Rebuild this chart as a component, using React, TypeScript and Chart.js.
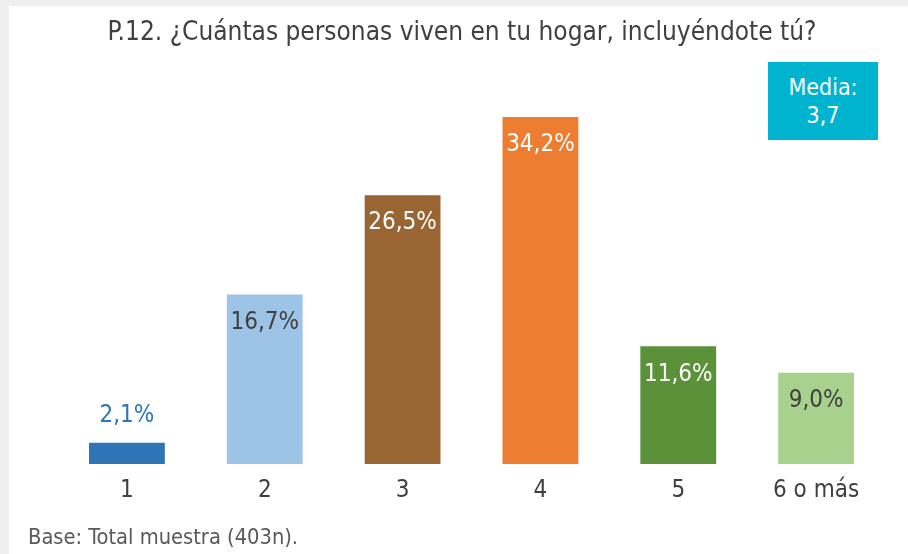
import React, { useEffect, useRef } from "react";
import { Chart, registerables } from "chart.js";

Chart.register(...registerables);

const categories = ["1", "2", "3", "4", "5", "6 o más"];
const values = [2.1, 16.7, 26.5, 34.2, 11.6, 9.0];
const valueLabels = ["2,1%", "16,7%", "26,5%", "34,2%", "11,6%", "9,0%"];
const barColors = ["#2e75b6", "#9dc3e6", "#996633", "#ed7d31", "#5b9138", "#a9d18e"];
const labelColors = ["#2e75b6", "#404040", "#ffffff", "#ffffff", "#ffffff", "#404040"];
const labelInside = [false, true, true, true, true, true];
const titleText = "P.12. ¿Cuántas personas viven en tu hogar, incluyéndote tú?";
const footerText = "Base: Total muestra (403n).";
const mediaLines = ["Media:", "3,7"];

const FONT = "'DejaVu Sans Condensed', 'DejaVu Sans', sans-serif";

const valueLabelPlugin = {
  id: "valueLabels",
  afterDatasetsDraw(chart: any) {
    const ctx = chart.ctx;
    const meta = chart.getDatasetMeta(0);
    ctx.save();
    ctx.font = `24px ${FONT}`;
    ctx.textAlign = "center";
    ctx.textBaseline = "middle";
    meta.data.forEach((bar: any, i: number) => {
      const y = labelInside[i] ? bar.y + 28 : bar.y - 27;
      ctx.fillStyle = labelColors[i];
      ctx.fillText(valueLabels[i], bar.x, y);
    });
    ctx.restore();
  },
};

export default function App() {
  const ref = useRef<HTMLCanvasElement | null>(null);
  useEffect(() => {
    if (!ref.current) return;
    const chart = new Chart(ref.current, {
      type: "bar",
      data: {
        labels: categories,
        datasets: [
          {
            data: values,
            backgroundColor: barColors,
            categoryPercentage: 1,
            barPercentage: 0.55,
          },
        ],
      },
      options: {
        responsive: false,
        animation: false,
        layout: { padding: { left: 19, right: 12, top: 0, bottom: 0 } },
        plugins: {
          legend: { display: false },
          tooltip: { enabled: false },
          title: {
            display: true,
            text: titleText,
            color: "#404040",
            font: { family: FONT, size: 26, weight: "normal" },
            padding: { top: 11.4, bottom: 9.6 },
          },
          subtitle: {
            display: true,
            text: footerText,
            position: "bottom",
            align: "start",
            color: "#595959",
            font: { family: FONT, size: 21.7, weight: "normal" },
            padding: { top: 7, bottom: 3 },
          },
        },
        scales: {
          x: {
            grid: { display: false, drawTicks: false },
            border: { display: false },
            ticks: {
              color: "#404040",
              font: { family: FONT, size: 24 },
              padding: 12.6,
            },
          },
          y: {
            display: true,
            min: 0,
            max: 40,
            grid: { display: false, drawTicks: false },
            border: { display: false },
            ticks: { display: false },
            afterFit: (s: any) => {
              s.width = 30;
            },
          },
          y2: {
            display: true,
            position: "right",
            min: 0,
            max: 40,
            grid: { display: false, drawTicks: false },
            border: { display: false },
            ticks: { display: false },
            afterFit: (s: any) => {
              s.width = 11;
            },
          },
        },
      },
      plugins: [valueLabelPlugin],
    });
    return () => chart.destroy();
  }, []);

  return (
    <div
      style={{
        position: "fixed",
        left: 0,
        top: 0,
        width: 908,
        height: 554,
        background: "#efefef",
        overflow: "hidden",
      }}
    >
      <div
        style={{
          position: "absolute",
          left: 9,
          top: 6,
          width: 899,
          height: 548,
          background: "#ffffff",
        }}
      >
        <canvas ref={ref} width={899} height={548} style={{ display: "block" }} />
        <div
          style={{
            position: "absolute",
            left: 759,
            top: 56,
            width: 110,
            height: 78,
            background: "#00b4cf",
            color: "#ffffff",
            fontFamily: FONT,
            fontSize: 23,
            lineHeight: "28px",
            textAlign: "center",
            display: "flex",
            flexDirection: "column",
            justifyContent: "center",
          }}
        >
          {mediaLines.map((l) => (
            <div key={l}>{l}</div>
          ))}
        </div>
      </div>
    </div>
  );
}
